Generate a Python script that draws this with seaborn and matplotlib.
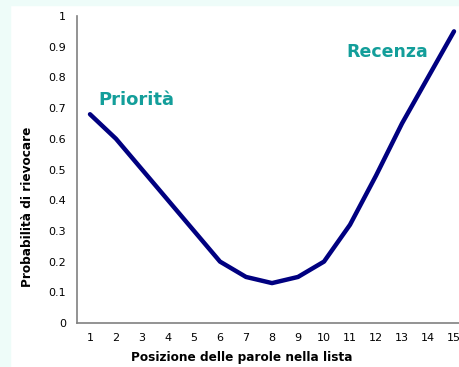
import numpy as np
import pandas as pd
import matplotlib
matplotlib.use("Agg")
import matplotlib.pyplot as plt
import seaborn as sns
from matplotlib.patches import Rectangle

# valori
posizioni = [1, 2, 3, 4, 5, 6, 7, 8, 9, 10, 11, 12, 13, 14, 15]
probabilita = [0.68, 0.60, 0.50, 0.40, 0.30, 0.20, 0.15, 0.13, 0.15, 0.20, 0.32, 0.48, 0.65, 0.80, 0.95]
y_ticks = [0, 0.1, 0.2, 0.3, 0.4, 0.5, 0.6, 0.7, 0.8, 0.9, 1]
y_tick_labels = ["0", "0.1", "0.2", "0.3", "0.4", "0.5", "0.6", "0.7", "0.8", "0.9", "1"]

df = pd.DataFrame({"pos": posizioni, "prob": probabilita})

sns.set_style("white")
plt.rcParams['font.family'] = ['DejaVu Sans']

fig = plt.figure(figsize=(4.6, 3.67), dpi=100)
fig.patch.set_facecolor("white")
# striscia azzurra a sinistra e in alto
fig.patches.append(Rectangle((0, 0), 10 / 460, 1, transform=fig.transFigure, color="#eefcf9", zorder=0))
fig.patches.append(Rectangle((0, 1 - 5 / 367), 1, 5 / 367, transform=fig.transFigure, color="#eefcf9", zorder=0))

ax = fig.add_axes([77 / 460, 44 / 367, 390 / 460, 307 / 367])
sns.lineplot(data=df, x="pos", y="prob", ax=ax, color="#000080", linewidth=3.2)

ax.set_xlim(0.5, 15.5)
ax.set_ylim(0, 1)
ax.set_xticks(np.arange(0.5, 16, 1))
ax.set_xticklabels([])
ax.set_xticks(posizioni, minor=True)
ax.set_xticklabels([str(p) for p in posizioni], minor=True, fontsize=8, color="black")
ax.tick_params(axis="x", which="minor", length=0, pad=7)
ax.tick_params(axis="x", which="major", length=4, width=1, color="#404040", direction="out")
ax.set_yticks(y_ticks)
ax.set_yticklabels(y_tick_labels, fontsize=8, color="black")
ax.tick_params(axis="y", length=4, width=1, color="#404040", direction="out", pad=4)

for s in ["top", "right"]:
    ax.spines[s].set_visible(False)
for s in ["left", "bottom"]:
    ax.spines[s].set_color("#808080")
    ax.spines[s].set_linewidth(1.2)

ax.set_xlabel("Posizione delle parole nella lista", fontsize=8.7, fontweight="bold", color="black")
ax.xaxis.set_label_coords(0.423, -0.09)
ax.set_ylabel("Probabilità di rievocare", fontsize=8.7, fontweight="bold", color="black")
ax.yaxis.set_label_coords(-0.11, 0.38)

ax.text(2.77, 0.726, "Priorità", color="#139e9a", fontsize=13, fontweight="bold", ha="center", va="center")
ax.text(12.45, 0.883, "Recenza", color="#139e9a", fontsize=12.5, fontweight="bold", ha="center", va="center")

fig.savefig("out.png", dpi=100)
